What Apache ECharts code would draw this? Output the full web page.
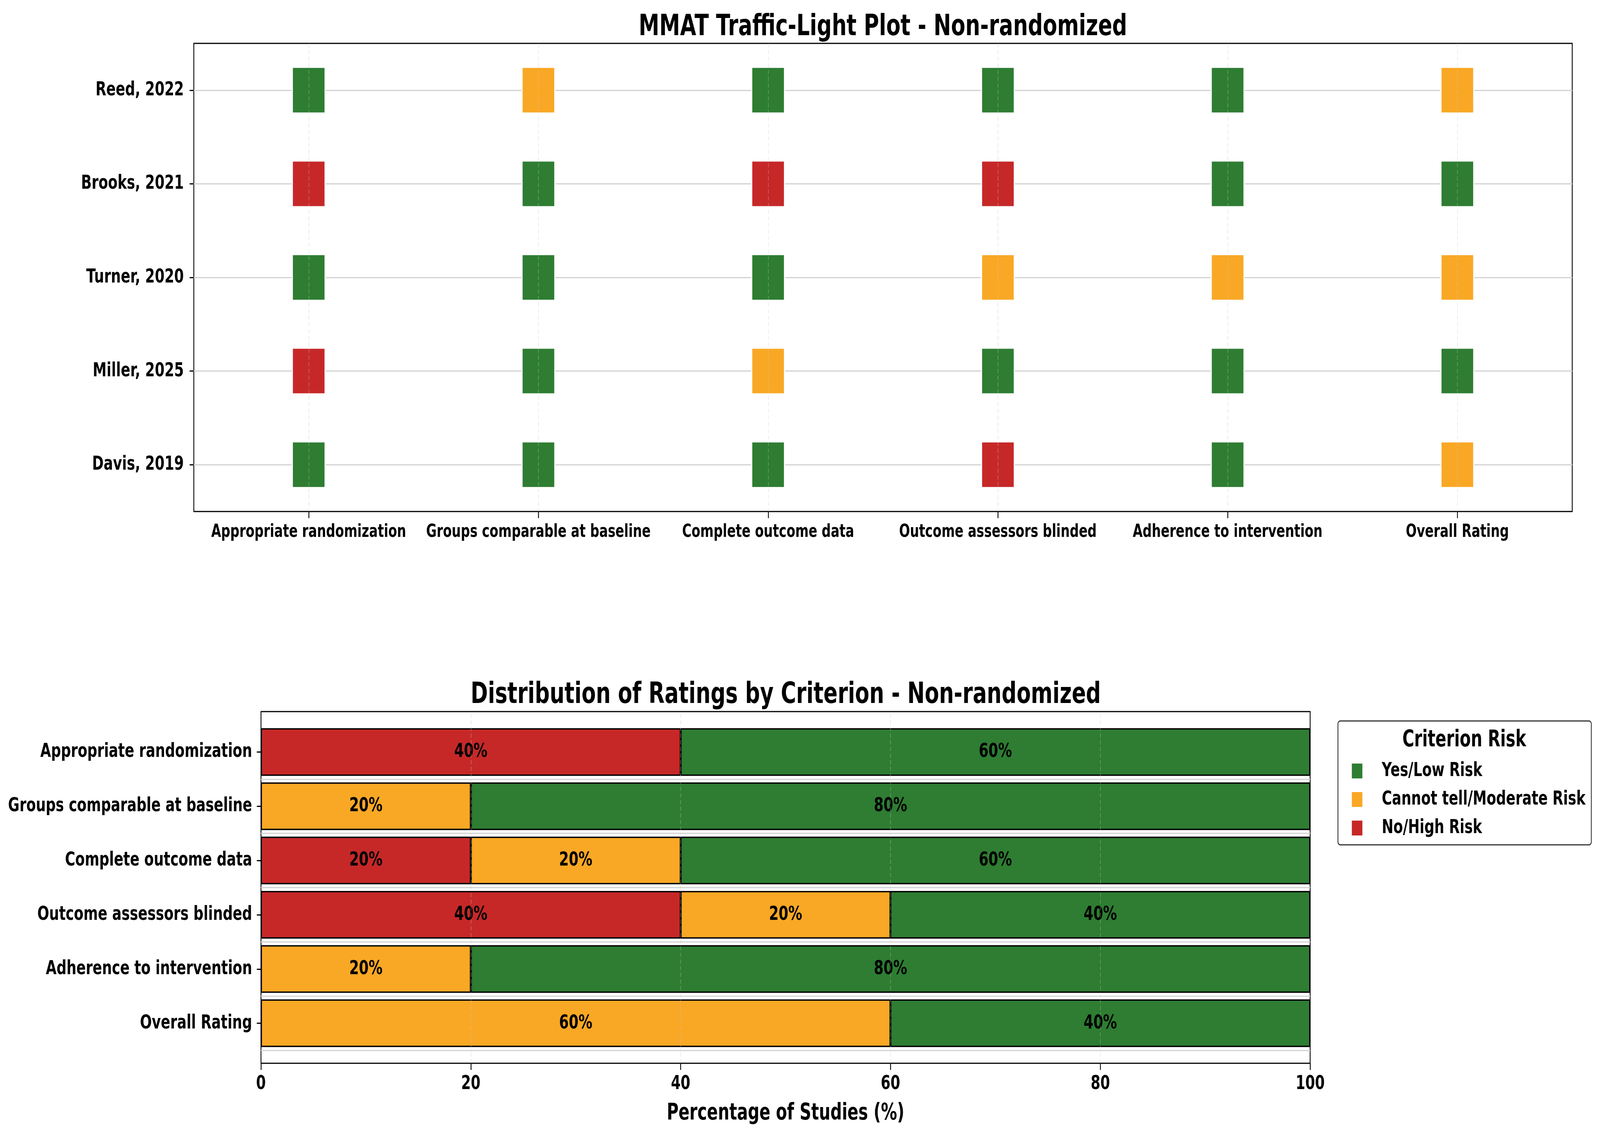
<!DOCTYPE html>
<html><head><meta charset="utf-8">
<script src="https://cdn.jsdelivr.net/npm/echarts@6/dist/echarts.min.js"></script>
<style>html,body{margin:0;padding:0;background:#fff;overflow:hidden}#c{width:5763px;height:2902px;transform-origin:0 0}</style>
</head><body><div id="c"></div>
<script>
// ---------------- data ----------------
const criteria = ['Appropriate randomization','Groups comparable at baseline','Complete outcome data','Outcome assessors blinded','Adherence to intervention','Overall Rating'];
const studies = ['Reed, 2022','Brooks, 2021','Turner, 2020','Miller, 2025','Davis, 2019'];
const ratingNames = ['Yes/Low Risk','Cannot tell/Moderate Risk','No/High Risk'];
const ratingColors = ['#2E7D32','#F9A825','#C62828'];
// rating per criterion for each study: 'Y' = Yes/Low, 'C' = Cannot tell/Moderate, 'N' = No/High
const ratingsReed   = ['Y','C','Y','Y','Y','C'];
const ratingsBrooks = ['N','Y','N','N','Y','Y'];
const ratingsTurner = ['Y','Y','Y','C','C','C'];
const ratingsMiller = ['N','Y','C','Y','Y','Y'];
const ratingsDavis  = ['Y','Y','Y','N','Y','C'];
const studyRatings = [ratingsReed, ratingsBrooks, ratingsTurner, ratingsMiller, ratingsDavis];
// distribution (% of studies) per criterion
const pctLow      = [60, 80, 60, 40, 80, 40];
const pctModerate = [ 0, 20, 20, 20, 20, 60];
const pctHigh     = [40,  0, 20, 40,  0,  0];
const xTicks = [0, 20, 40, 60, 80, 100];

// ---------------- chart (laid out at 5763x2902, then fitted to the viewport) ----------------
const el = document.getElementById('c');
const sx = window.innerWidth / 5763, sy = window.innerHeight / 2902;
el.style.transform = 'scale(' + sx + ',' + sy + ')';
const F = 'DejaVu Sans';
const codeIdx = {Y: 0, C: 1, N: 2};
const chart = echarts.init(el, null, {renderer: 'canvas', devicePixelRatio: 1});

const scatterData = [];
studies.forEach((s, i) => {
  studyRatings[i].forEach((r, j) => {
    scatterData.push({value: [criteria[j], s], itemStyle: {color: ratingColors[codeIdx[r]]}});
  });
});

const tickStyle = {color: '#000', width: 3};
const dashLine = {color: 'rgba(200,200,200,0.3)', width: 3, type: [11, 6]};
const lbl = (size) => ({fontFamily: F, fontWeight: 'bold', fontSize: size, color: '#000'});

function barSeries(name, arr, color) {
  return {
    type: 'bar', name: name, stack: 'dist', xAxisIndex: 1, yAxisIndex: 1,
    barWidth: 122,
    data: arr.map(v => v === 0 ? '-' : v),
    itemStyle: {color: color, borderColor: '#000', borderWidth: 3.5},
    label: {show: true, position: 'inside', formatter: p => p.value + '%', ...lbl(50)},
    emphasis: {disabled: true}
  };
}

const option = {
  backgroundColor: '#fff',
  animation: false,
  graphic: [
    {type: 'text', x: 3180, y: 71, style: {text: 'MMAT Traffic-Light Plot - Non-randomized', font: 'bold 75px "DejaVu Sans"', fill: '#000', textAlign: 'center', textVerticalAlign: 'middle'}},
    {type: 'text', x: 2830, y: 1780, style: {text: 'Distribution of Ratings by Criterion - Non-randomized', font: 'bold 75px "DejaVu Sans"', fill: '#000', textAlign: 'center', textVerticalAlign: 'middle'}},
    {type: 'text', x: 5274, y: 1895, z: 100, style: {text: 'Criterion Risk', font: 'bold 58px "DejaVu Sans"', fill: '#000', textAlign: 'center', textVerticalAlign: 'middle'}}
  ],
  legend: {
    orient: 'vertical', left: 4819, top: 1845,
    data: ratingNames,
    icon: 'rect', itemWidth: 38, itemHeight: 38, itemGap: 23,
    padding: [103, 21, 18, 50],
    borderColor: '#333', borderWidth: 3, borderRadius: 8,
    backgroundColor: '#fff',
    itemStyle: {borderWidth: 0},
    textStyle: {...lbl(50), padding: [0, 0, 0, 65], lineHeight: 38},
    selectedMode: false
  },
  grid: [
    {left: 698, top: 111, width: 4965, height: 1198, show: true, borderColor: '#000', borderWidth: 3},
    {left: 940, top: 1855, width: 3779, height: 833},
    {left: 940, top: 1821, width: 3779, height: 900, show: true, borderColor: '#000', borderWidth: 3}
  ],
  xAxis: [
    {gridIndex: 0, type: 'category', data: criteria, boundaryGap: true,
     axisLine: {show: false}, axisTick: {show: true, alignWithLabel: true, length: 17, lineStyle: tickStyle},
     axisLabel: {...lbl(46), margin: 30, interval: 0}, splitLine: {show: false}},
    {gridIndex: 1, type: 'value', min: 0, max: 100, show: false, splitLine: {show: false}},
    {gridIndex: 2, type: 'value', min: 0, max: 100, interval: 20,
     axisLine: {show: false}, axisTick: {show: true, length: 17, lineStyle: tickStyle},
     axisLabel: {...lbl(50), margin: 28}, splitLine: {show: false},
     name: 'Percentage of Studies (%)', nameLocation: 'middle', nameGap: 100,
     nameTextStyle: lbl(58)}
  ],
  yAxis: [
    {gridIndex: 0, type: 'category', data: studies, inverse: true,
     axisLine: {show: false}, axisTick: {show: true, alignWithLabel: true, length: 15, lineStyle: tickStyle},
     axisLabel: {...lbl(50), margin: 36}, splitLine: {show: false}},
    {gridIndex: 1, type: 'category', data: criteria, inverse: true,
     axisLine: {show: false}, axisTick: {show: true, alignWithLabel: true, length: 15, lineStyle: tickStyle},
     axisLabel: {...lbl(50), margin: 32}, splitLine: {show: false}},
    {gridIndex: 1, type: 'value', min: 0, max: criteria.length, inverse: true, show: false, splitLine: {show: false}},
    {gridIndex: 2, type: 'value', min: 0, max: 1, show: false, splitLine: {show: false}}
  ],
  series: [
    {type: 'line', xAxisIndex: 0, yAxisIndex: 0, data: [], silent: true,
     markLine: {silent: true, z: 1, symbol: ['none', 'none'], label: {show: false},
       lineStyle: {color: '#d3d3d3', width: 3, type: 'solid'},
       data: studies.map(s => ({yAxis: s}))}},
    {type: 'scatter', name: 'ratings', xAxisIndex: 0, yAxisIndex: 0, symbol: 'rect', symbolSize: 118,
     data: scatterData, itemStyle: {borderColor: '#fff', borderWidth: 4, opacity: 1},
     emphasis: {disabled: true},
     markLine: {silent: true, z: 5, symbol: ['none', 'none'], label: {show: false},
       lineStyle: dashLine, data: criteria.map(c => ({xAxis: c}))}},
    barSeries(ratingNames[2], pctHigh, ratingColors[2]),
    barSeries(ratingNames[1], pctModerate, ratingColors[1]),
    barSeries(ratingNames[0], pctLow, ratingColors[0]),
    {type: 'line', xAxisIndex: 1, yAxisIndex: 2, data: [], silent: true,
     markLine: {silent: true, z: 1, symbol: ['none', 'none'], label: {show: false},
       lineStyle: {color: '#d3d3d3', width: 3, type: 'solid'},
       data: criteria.map((c, i) => ({yAxis: i + 1}))}},
    {type: 'line', xAxisIndex: 2, yAxisIndex: 3, data: [], silent: true,
     markLine: {silent: true, z: 6, symbol: ['none', 'none'], label: {show: false},
       lineStyle: dashLine, data: xTicks.slice(1, -1).map(v => ({xAxis: v}))}}
  ]
};
chart.setOption(option);
</script></body></html>
